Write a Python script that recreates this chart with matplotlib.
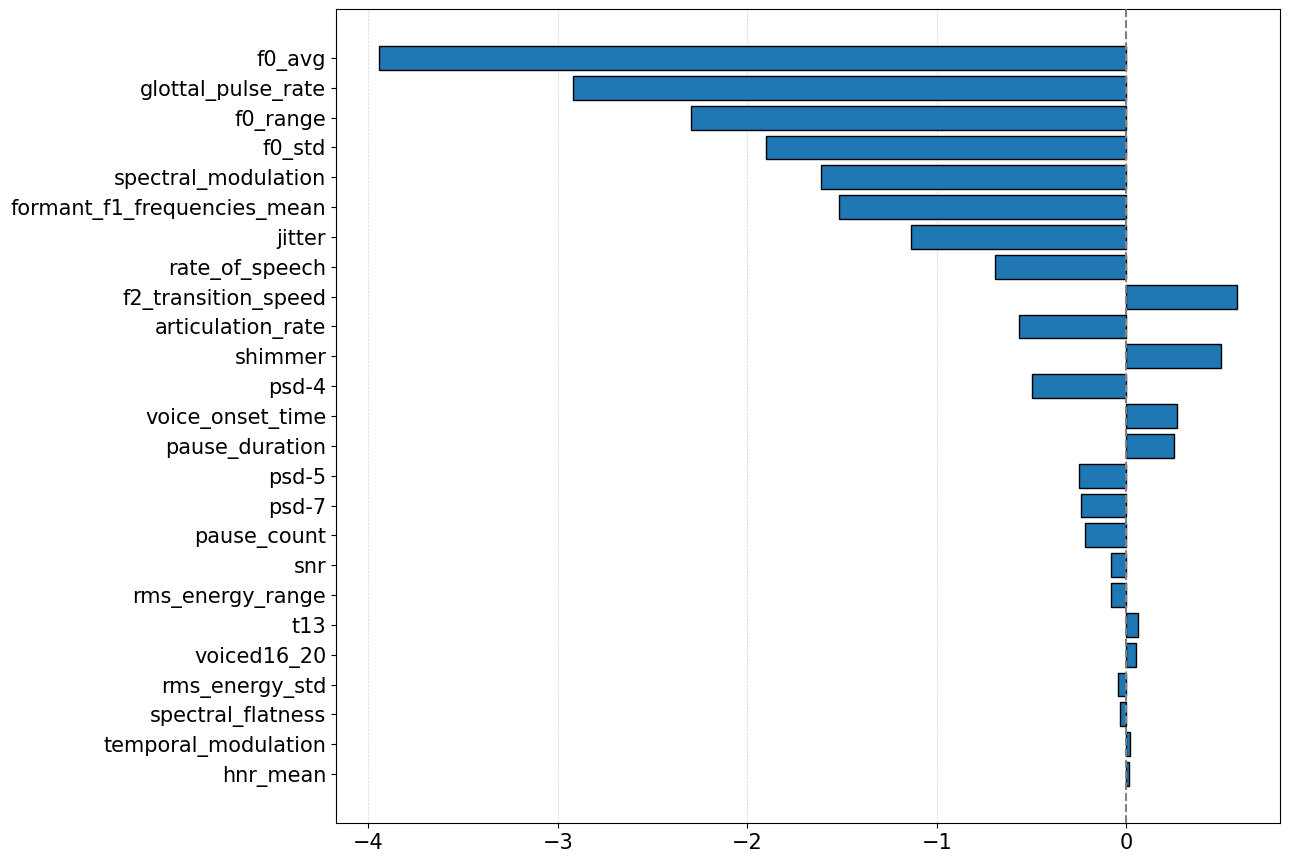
import matplotlib
matplotlib.use("Agg")
import matplotlib.pyplot as plt

features = ["f0_avg", "glottal_pulse_rate", "f0_range", "f0_std", "spectral_modulation",
            "formant_f1_frequencies_mean", "jitter", "rate_of_speech", "f2_transition_speed",
            "articulation_rate", "shimmer", "psd-4", "voice_onset_time", "pause_duration",
            "psd-5", "psd-7", "pause_count", "snr", "rms_energy_range", "t13", "voiced16_20",
            "rms_energy_std", "spectral_flatness", "temporal_modulation", "hnr_mean"]
values = [-3.945, -2.922, -2.300, -1.904, -1.614, -1.519, -1.134, -0.691, 0.585,
          -0.564, 0.501, -0.496, 0.269, 0.253, -0.248, -0.237, -0.220, -0.078, -0.078,
          0.060, 0.049, -0.041, -0.031, 0.022, 0.012]

fig = plt.figure(figsize=(12.89, 8.64), dpi=100)
ax = fig.add_axes([336/1289, 1-823/864, (1280-336)/1289, (823-9)/864])
ax.barh(features, values, color="#1f77b4", edgecolor="black", height=0.8, zorder=2)
ax.invert_yaxis()
ax.axvline(0, color="gray", linestyle="--", linewidth=1.5, zorder=3)
ax.grid(axis="x", color="lightgray", linestyle="--", linewidth=0.5, zorder=0)
ax.set_axisbelow(True)
ax.tick_params(axis="both", labelsize=15)
fig.savefig("out.png", dpi=100)
